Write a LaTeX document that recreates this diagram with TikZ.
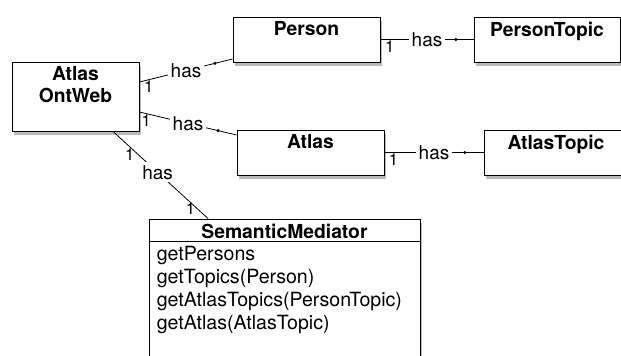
\documentclass[tikz,border=0pt]{standalone}
\usepackage{fontspec}
\setmainfont{TeX Gyre Heros}
\usetikzlibrary{shadows, decorations.markings}
\tikzset{
    class/.style = {
        draw, fill=white, line width=0.9pt, inner sep=0pt,
        drop shadow={shadow xshift=1.5pt, shadow yshift=-4pt, opacity=0.45, fill=black!60}
    },
    title/.style = {anchor=north, inner sep=5pt, align=center, font=\bfseries\fontsize{19.3}{22}\selectfont},
    assoc/.style = {line width=0.8pt},
    navi/.style = {
        assoc,
        postaction={decorate,
            decoration={
                markings,
                mark=at position 0.81 with {\fill (0,0) circle (1.7pt);}
            }
        }
    },
    role/.style = {fill=white, inner sep=3pt, font=\fontsize{19}{22}\selectfont},
    mult/.style = {inner sep=1pt, font=\fontsize{16.5}{18}\selectfont}
}

\begin{document}
\begin{tikzpicture}[x=1pt, y=-1pt]
        \useasboundingbox (0,0) rectangle (621,356);
        % classes
        \node[class, minimum width=127pt, minimum height=69pt] (web) at (75.5,96.5) {};
        \node[title] at (web.north) {Atlas\\OntWeb};
        \node[class, minimum width=147pt, minimum height=45pt] (person) at (306.5,39.5) {};
        \node[title] at (person.north) {Person};
        \node[class, minimum width=146pt, minimum height=45pt] (personTopic) at (547,39.5) {};
        \node[title] at (personTopic.north) {PersonTopic};
        \node[class, minimum width=147pt, minimum height=45pt] (atlas) at (310.5,152.5) {};
        \node[title] at (atlas.north) {Atlas};
        \node[class, minimum width=144pt, minimum height=45pt] (atlasTopic) at (556,152.5) {};
        \node[title] at (atlasTopic.north) {AtlasTopic};
        \node[class, minimum width=271pt, minimum height=151pt] (mediator) at (284.5,294.5) {};
        \node[title] at (mediator.north) {SemanticMediator};
        \draw[line width=0.9pt] ([yshift=-23pt]mediator.north west) -- ([yshift=-23pt]mediator.north east);
        \node[anchor=north west, inner sep=2pt, align=left, font=\fontsize{19.6}{23.3}\selectfont]
            (methods) at ([xshift=6pt, yshift=-25pt]mediator.north west)
            {getPersons\\getTopics(Person)\\getAtlasTopics(PersonTopic)\\getAtlas(AtlasTopic)};
        % associations
        \draw[navi] ([yshift=14.5pt]web.east) -- ([yshift=-19.5pt]person.west)
            node[role, midway] {has} node[mult, pos=0.1, below] {1};
        \draw[navi] ([yshift=-15.5pt]web.east) -- ([yshift=17.5pt]atlas.west)
            node[role, midway] {has} node[mult, pos=0.07, below] {1};
        \draw[assoc] ([xshift=37.5pt]web.south) -- ([xshift=-76.5pt]mediator.north)
            node[role, pos=0.47] {has} node[mult, pos=0.27, left=3pt] {1} node[mult, pos=0.89, left=1pt] {1};
        \draw[navi] (person.east) -- (personTopic.west)
            node[role, midway] {has} node[mult, pos=0.1, below] {1};
        \draw[navi] (atlas.east) -- (atlasTopic.west)
            node[role, midway] {has} node[mult, pos=0.09, below] {1};
    \end{tikzpicture}
\end{document}
